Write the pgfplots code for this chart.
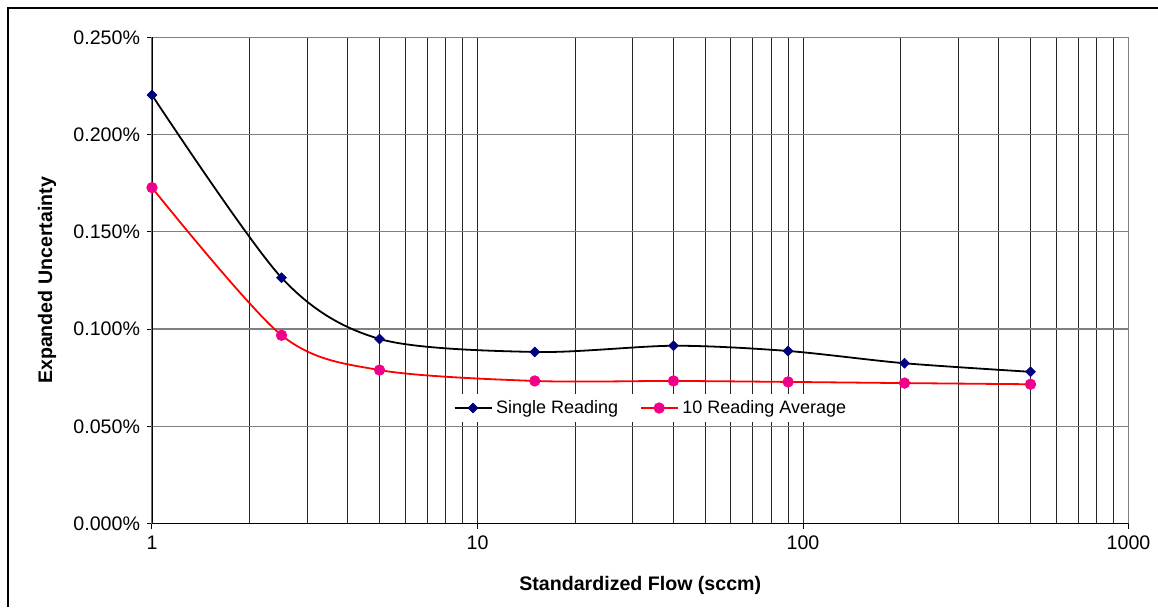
\documentclass[border=0pt]{standalone}
\usepackage{fontspec}
\setmainfont{Liberation Sans}
\usepackage{pgfplots}
\pgfplotsset{compat=1.18}
\definecolor{navymark}{HTML}{000080}
\definecolor{gridgray}{HTML}{808080}

\begin{document}
\begin{tikzpicture}
\useasboundingbox (0pt,0pt) rectangle (579pt,303.5pt);
\draw[line width=1.2pt] (4pt,0pt) -- (4pt,299.5pt) -- (579pt,299.5pt);
\begin{axis}[
  at={(76pt,41.75pt)}, anchor=south west,
  scale only axis,
  width=488.25pt, height=243.1pt,
  xmode=log,
  xmin=1, xmax=1000,
  ymin=0, ymax=0.25,
  xtick={1,10,100,1000},
  xticklabels={1,10,100,1000},
  ytick={0,0.05,0.1,0.15,0.2,0.25},
  yticklabel={\pgfmathprintnumber[fixed,fixed zerofill,precision=3]{\tick}\%},
  /pgf/number format/assume math mode=true,
  tick label style={font=\fontsize{9.8}{11}\selectfont},
  xtick pos=bottom, ytick pos=left,
  tick align=outside,
  major tick length=2.5pt,
  minor tick length=0pt,
  xmajorgrids, xminorgrids, ymajorgrids,
  x grid style={black!85,line width=0.5pt},
  minor x grid style={black!85,line width=0.5pt},
  y grid style={gridgray,line width=0.6pt},
  axis line style={gridgray,line width=0.7pt},
  major tick style={black,line width=0.5pt},
  xlabel={\textbf{Standardized Flow (sccm)}},
  ylabel={\textbf{Expanded Uncertainty}},
  label style={font=\fontsize{9.8}{11}\selectfont},
  xlabel style={at={(axis description cs:0.5,-0.1265)},anchor=center},
  ylabel style={at={(axis description cs:-0.1075,0.5)},anchor=center},
  legend columns=2,
  legend style={at={(0.512,0.2375)},anchor=center,draw=none,fill=white,
    font=\fontsize{9}{10}\selectfont,inner sep=1pt,
    /tikz/every even column/.append style={column sep=9pt}},
  legend cell align=left,
  legend image code/.code={
    \draw[mark repeat=2,mark phase=2] plot coordinates {(0cm,0cm) (0.32cm,0cm) (0.64cm,0cm)};},
]
\addplot[black,line width=0.9pt,smooth,tension=0.5,
  mark=square*,mark size=1.75pt,
  mark options={rotate=45,fill=navymark,draw=navymark,line width=0.3pt}]
  coordinates {
  (1,0.2203) (2.5,0.1264) (5,0.0949) (15,0.0882) (40,0.0914)
  (90,0.0887) (205,0.0824) (500,0.0780)
};
\addlegendentry{Single Reading}
\addplot[red,line width=0.9pt,smooth,tension=0.5,
  mark=*,mark size=2.6pt,
  mark options={fill=magenta,draw=red!50!magenta,line width=0.45pt}]
  coordinates {
  (1,0.1727) (2.5,0.0968) (5,0.0789) (15,0.0733) (40,0.0733)
  (90,0.0728) (205,0.0722) (500,0.0716)
};
\addlegendentry{10 Reading Average}
\draw[black,line width=0.8pt] (rel axis cs:0,1) -- (rel axis cs:0,0) -- (rel axis cs:1,0);
\end{axis}
\end{tikzpicture}
\end{document}
